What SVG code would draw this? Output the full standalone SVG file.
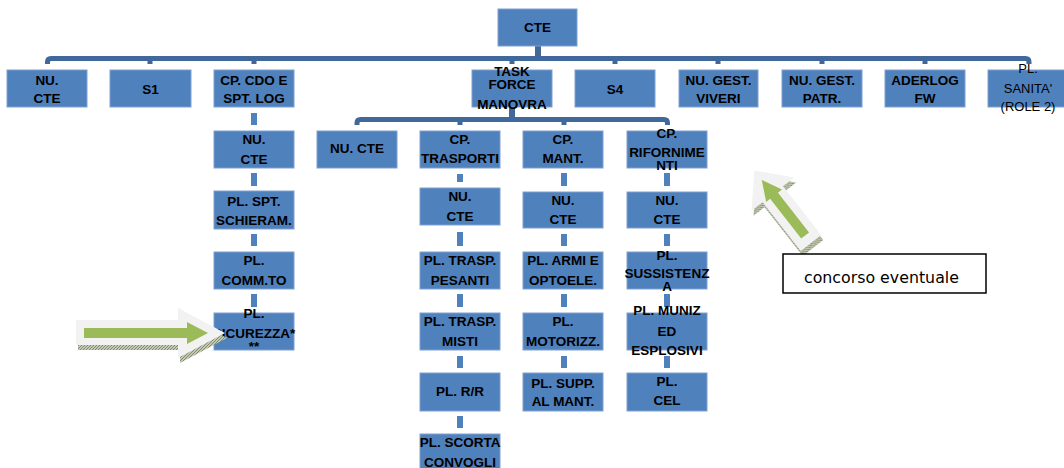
<svg xmlns="http://www.w3.org/2000/svg" width="1064" height="468" viewBox="0 0 1064 468">
<style>
.box{fill:#4f81bd;stroke:#7fa0cf;stroke-width:1}
.t{font-family:"Liberation Sans",Arial,sans-serif;font-weight:bold;font-size:13.5px;text-anchor:middle;fill:#000}
.r{font-family:"Liberation Sans",Arial,sans-serif;font-size:13px;text-anchor:middle;fill:#000}
.bus{fill:none;stroke:#41689b;stroke-width:5}
.stub{fill:#41689b}
.bar{fill:#4f81bd}
.gray{fill:#f2f2f2}
.green{fill:#9bbb59}
.hatch{fill:url(#hatch)}
</style>
<defs>
<pattern id="hatch" width="3" height="3" patternUnits="userSpaceOnUse">
<rect width="3" height="3" fill="#c2c8b3"/>
<path d="M0,3 L3,0" stroke="#6f7d5c" stroke-width="0.8"/>
</pattern>
<polygon id="arrL" points="76,320 178,320 178,308 225,333 178,358 178,345 76,345"/>
<polygon id="arrR" points="0,-13 62,-13 62,-27 92,0 62,27 62,13 0,13"/>
</defs>

<g id="connectors">
<rect class="stub" x="535" y="46" width="6" height="11"/>
<path class="bus" d="M47.5,64 V62 Q47.5,58.5 51,58.5 H1025.5 Q1029,58.5 1029,62 V64"/>
<rect class="stub" x="147.5" y="58" width="5" height="6"/>
<rect class="stub" x="251.5" y="58" width="5" height="6"/>
<rect class="stub" x="509.5" y="58" width="5" height="6"/>
<rect class="stub" x="612.5" y="58" width="5" height="6"/>
<rect class="stub" x="715.5" y="58" width="5" height="6"/>
<rect class="stub" x="819.5" y="58" width="5" height="6"/>
<rect class="stub" x="922.5" y="58" width="5" height="6"/>
<rect class="stub" x="509" y="107" width="6" height="11"/>
<path class="bus" d="M357,125 V123 Q357,119.5 360.5,119.5 H664 Q667.5,119.5 667.5,123 V125"/>
<rect class="stub" x="457.5" y="119" width="5" height="6"/>
<rect class="stub" x="561.5" y="119" width="5" height="6"/>
<rect class="bar" x="251" y="113" width="6" height="12"/>
<rect class="bar" x="251" y="173" width="6" height="13"/>
<rect class="bar" x="251" y="234" width="6" height="12"/>
<rect class="bar" x="251" y="294" width="6" height="13"/>
<rect class="bar" x="457" y="174" width="6" height="8"/>
<rect class="bar" x="457" y="232" width="6" height="14"/>
<rect class="bar" x="457" y="294" width="6" height="13"/>
<rect class="bar" x="457" y="356" width="6" height="12"/>
<rect class="bar" x="457" y="416" width="6" height="12"/>
<rect class="bar" x="561" y="173" width="6" height="13"/>
<rect class="bar" x="561" y="234" width="6" height="12"/>
<rect class="bar" x="561" y="294" width="6" height="13"/>
<rect class="bar" x="561" y="356" width="6" height="12"/>
<rect class="bar" x="664" y="173" width="6" height="13"/>
<rect class="bar" x="664" y="234" width="6" height="12"/>
<rect class="bar" x="664" y="294" width="6" height="13"/>
<rect class="bar" x="664" y="356" width="6" height="12"/>
</g>

<g id="n_cte"><rect class="box" x="498" y="9" width="79" height="37"/><text class="t" x="537.5" y="32">CTE</text></g>

<g id="n_nucte"><rect class="box" x="7" y="70" width="80" height="37"/><text class="t" x="47" y="85">NU.</text><text class="t" x="47" y="102.5">CTE</text></g>
<g id="n_s1"><rect class="box" x="110" y="70" width="81" height="37"/><text class="t" x="150.5" y="93.5">S1</text></g>
<g id="n_cdo"><rect class="box" x="214" y="70" width="80" height="37"/><text class="t" x="254" y="84.5">CP. CDO E</text><text class="t" x="254" y="102.5">SPT. LOG</text></g>
<g id="n_tf"><rect class="box" x="472" y="70" width="80" height="37"/><text class="t" x="512" y="76">TASK</text><text class="t" x="512" y="89">FORCE</text><text class="t" x="512" y="109">MANOVRA</text></g>
<g id="n_s4"><rect class="box" x="575" y="70" width="80" height="37"/><text class="t" x="615" y="93.5">S4</text></g>
<g id="n_viveri"><rect class="box" x="679" y="70" width="79" height="37"/><text class="t" x="718.5" y="84.5">NU. GEST.</text><text class="t" x="718.5" y="102.5">VIVERI</text></g>
<g id="n_patr"><rect class="box" x="782" y="70" width="80" height="37"/><text class="t" x="822" y="84.5">NU. GEST.</text><text class="t" x="822" y="102.5">PATR.</text></g>
<g id="n_aderlog"><rect class="box" x="885" y="70" width="80" height="37"/><text class="t" x="925" y="84.5">ADERLOG</text><text class="t" x="925" y="102.5">FW</text></g>
<g id="n_sanita"><rect class="box" x="988" y="70" width="80" height="37"/><text class="r" x="1028" y="73">PL.</text><text class="r" x="1028" y="93">SANITA'</text><text class="r" x="1028" y="111">(ROLE 2)</text></g>

<g id="n_cdo_nu"><rect class="box" x="214" y="131" width="80" height="37"/><text class="t" x="254" y="144">NU.</text><text class="t" x="254" y="163.5">CTE</text></g>
<g id="n_schieram"><rect class="box" x="214" y="191" width="80" height="38"/><text class="t" x="254" y="205.5">PL. SPT.</text><text class="t" x="254" y="225">SCHIERAM.</text></g>
<g id="n_comm"><rect class="box" x="214" y="252" width="80" height="37"/><text class="t" x="254" y="265">PL.</text><text class="t" x="254" y="285">COMM.TO</text></g>
<g id="n_sicur"><rect class="box" x="214" y="313" width="80" height="37"/><text class="t" x="254" y="318">PL.</text><text class="t" x="254" y="338">SICUREZZA*</text><text class="t" x="254" y="351">**</text></g>

<g id="n_tf_nu"><rect class="box" x="317" y="131" width="80" height="37"/><text class="t" x="357" y="153">NU. CTE</text></g>
<g id="n_trasp"><rect class="box" x="420" y="131" width="80" height="37"/><text class="t" x="460" y="143.5">CP.</text><text class="t" x="460" y="163">TRASPORTI</text></g>
<g id="n_mant"><rect class="box" x="523" y="131" width="80" height="37"/><text class="t" x="563" y="143.5">CP.</text><text class="t" x="563" y="163">MANT.</text></g>
<g id="n_rif"><rect class="box" x="627" y="131" width="80" height="37"/><text class="t" x="667" y="137.5">CP.</text><text class="t" x="667" y="156.5">RIFORNIME</text><text class="t" x="667" y="170">NTI</text></g>

<g id="n_trasp_nu"><rect class="box" x="420" y="188" width="80" height="37"/><text class="t" x="460" y="201">NU.</text><text class="t" x="460" y="220.5">CTE</text></g>
<g id="n_pesanti"><rect class="box" x="420" y="252" width="80" height="37"/><text class="t" x="460" y="265">PL. TRASP.</text><text class="t" x="460" y="284.5">PESANTI</text></g>
<g id="n_misti"><rect class="box" x="420" y="313" width="80" height="37"/><text class="t" x="460" y="326">PL. TRASP.</text><text class="t" x="460" y="345.5">MISTI</text></g>
<g id="n_rr"><rect class="box" x="420" y="373" width="80" height="38"/><text class="t" x="460" y="396">PL. R/R</text></g>
<g id="n_scorta"><rect class="box" x="420" y="434" width="80" height="37"/><text class="t" x="460" y="446.5">PL. SCORTA</text><text class="t" x="460" y="466.5">CONVOGLI</text></g>

<g id="n_mant_nu"><rect class="box" x="523" y="192" width="80" height="36"/><text class="t" x="563" y="205">NU.</text><text class="t" x="563" y="224">CTE</text></g>
<g id="n_armi"><rect class="box" x="523" y="252" width="80" height="37"/><text class="t" x="563" y="265">PL. ARMI E</text><text class="t" x="563" y="284.5">OPTOELE.</text></g>
<g id="n_motor"><rect class="box" x="523" y="313" width="80" height="37"/><text class="t" x="563" y="325.5">PL.</text><text class="t" x="563" y="345.5">MOTORIZZ.</text></g>
<g id="n_supp"><rect class="box" x="523" y="373" width="80" height="38"/><text class="t" x="563" y="387.5">PL. SUPP.</text><text class="t" x="563" y="406">AL MANT.</text></g>

<g id="n_rif_nu"><rect class="box" x="627" y="192" width="80" height="36"/><text class="t" x="667" y="204.5">NU.</text><text class="t" x="667" y="224">CTE</text></g>
<g id="n_suss"><rect class="box" x="627" y="252" width="80" height="37"/><text class="t" x="667" y="260">PL.</text><text class="t" x="667" y="278">SUSSISTENZ</text><text class="t" x="667" y="291">A</text></g>
<g id="n_muniz"><rect class="box" x="627" y="313" width="80" height="37"/><text class="t" x="667" y="315">PL. MUNIZ</text><text class="t" x="667" y="336">ED</text><text class="t" x="667" y="355">ESPLOSIVI</text></g>
<g id="n_cel"><rect class="box" x="627" y="373" width="80" height="38"/><text class="t" x="667" y="386">PL.</text><text class="t" x="667" y="405">CEL</text></g>

<g id="arrow_left">
<use href="#arrL" class="hatch" transform="translate(2,5)"/>
<use href="#arrL" class="gray"/>
<polygon class="green" points="84,328 187,328 187,322 208,333 187,344 187,338 84,338"/>
</g>

<g id="arrow_right">
<g transform="translate(2,5)"><use href="#arrR" class="hatch" transform="translate(811,243) rotate(-128)"/></g>
<use href="#arrR" class="gray" transform="translate(811,243) rotate(-128)"/>
<polygon class="green" transform="translate(811,243) rotate(-128)" points="9.5,-5 60,-5 60,-10 80,0 60,10 60,5 9.5,5"/>
</g>

<g id="n_legend"><rect x="783" y="254" width="203" height="39" fill="#fff" stroke="#000" stroke-width="1.5"/><text x="804" y="283" font-family="DejaVu Sans,Verdana,sans-serif" font-size="15.8" fill="#000">concorso eventuale</text></g>
</svg>
